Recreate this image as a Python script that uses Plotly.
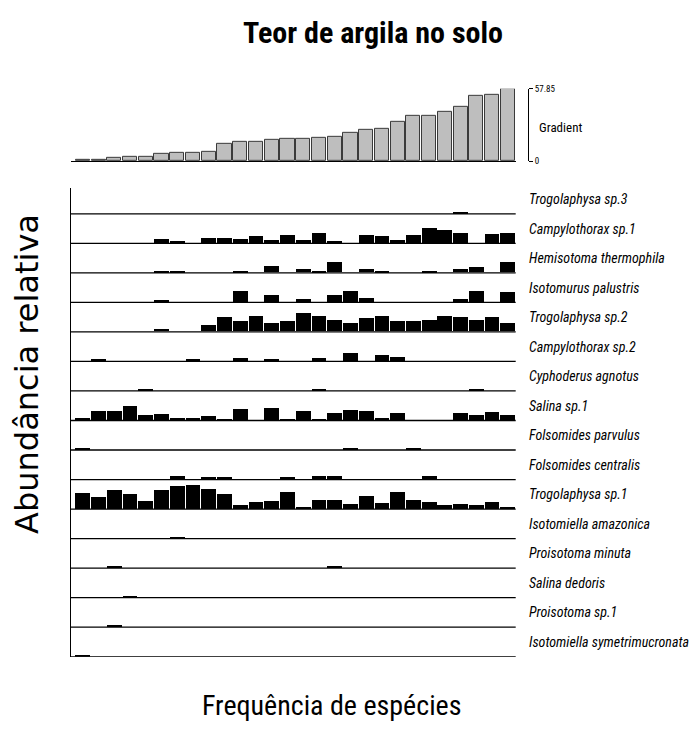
import plotly.graph_objects as go

W, H = 691, 734

# Sites ordered along the clay-content gradient (28 sites)
n_sites = 28
sites = list(range(n_sites))
clay_gradient = [0.8, 0.8, 2.9, 3.7, 3.7, 5.8, 6.8, 6.6, 7.6, 13.9, 15.8, 15.8, 16.8, 17.6,
                 17.6, 18.7, 19.7, 22.4, 25.0, 26.0, 31.3, 36.0, 36.0, 39.4, 43.4, 52.3,
                 53.4, 57.85]
gradient_max = 57.85

species = [
    "Trogolaphysa sp.3", "Campylothorax sp.1", "Hemisotoma thermophila",
    "Isotomurus palustris", "Trogolaphysa sp.2", "Campylothorax sp.2",
    "Cyphoderus agnotus", "Salina sp.1", "Folsomides parvulus",
    "Folsomides centralis", "Trogolaphysa sp.1", "Isotomiella amazonica",
    "Proisotoma minuta", "Salina dedoris", "Proisotoma sp.1",
    "Isotomiella symetrimucronata",
]

# Relative abundance per site (same scale for all species)
trogolaphysa_sp3 = [0]*24 + [5, 0, 0, 0]
campylothorax_sp1 = [0, 0, 0, 0, 0, 13, 5, 0, 16, 16, 13, 20, 9, 23, 9, 30, 5, 0, 23, 20,
                     9, 23, 44, 40, 30, 0, 26, 30]
hemisotoma_thermophila = [0, 0, 0, 0, 0, 5, 5, 0, 0, 0, 5, 0, 19, 0, 9, 5, 33, 0, 9, 5,
                          0, 0, 5, 0, 9, 16, 0, 32]
isotomurus_palustris = [0, 0, 0, 0, 0, 5, 0, 0, 0, 0, 33, 0, 22, 0, 8, 0, 22, 33, 12, 0,
                        0, 0, 0, 0, 8, 33, 0, 29]
trogolaphysa_sp2 = [0, 0, 0, 0, 0, 8, 0, 0, 19, 44, 32, 47, 25, 32, 57, 47, 36, 25, 40, 47,
                    32, 32, 36, 47, 44, 36, 44, 25]
campylothorax_sp2 = [0, 5, 0, 0, 0, 0, 0, 5, 0, 0, 8, 0, 5, 0, 0, 8, 0, 23, 0, 19,
                     12, 0, 0, 0, 0, 0, 0, 0]
cyphoderus_agnotus = [0, 0, 0, 0, 4, 0, 0, 0, 0, 0, 0, 0, 0, 0, 0, 4, 0, 0, 0, 0,
                      0, 0, 0, 0, 0, 4, 0, 0]
salina_sp1 = [7, 28, 28, 42, 14, 18, 7, 7, 11, 3, 35, 0, 38, 3, 28, 3, 21, 32, 28, 7,
              21, 0, 0, 0, 21, 14, 25, 14]
folsomides_parvulus = [5, 0, 0, 0, 0, 0, 0, 0, 0, 0, 0, 0, 0, 0, 0, 0, 0, 5, 0, 0,
                       0, 5, 0, 0, 0, 0, 0, 0]
folsomides_centralis = [0, 0, 0, 0, 0, 0, 8, 0, 5, 5, 0, 0, 0, 5, 0, 8, 8, 0, 0, 0,
                        0, 0, 8, 0, 0, 0, 0, 0]
trogolaphysa_sp1 = [48, 34, 56, 45, 24, 56, 69, 73, 59, 45, 10, 20, 24, 52, 6, 27, 27, 13,
                    38, 17, 52, 27, 20, 10, 13, 10, 20, 3]
isotomiella_amazonica = [0]*6 + [4] + [0]*21
proisotoma_minuta = [0, 0, 6] + [0]*13 + [4] + [0]*11
salina_dedoris = [0, 0, 0, 4] + [0]*24
proisotoma_sp1 = [0, 0, 4] + [0]*25
isotomiella_symetrimucronata = [4] + [0]*27

abundances = [
    trogolaphysa_sp3, campylothorax_sp1, hemisotoma_thermophila, isotomurus_palustris,
    trogolaphysa_sp2, campylothorax_sp2, cyphoderus_agnotus, salina_sp1,
    folsomides_parvulus, folsomides_centralis, trogolaphysa_sp1, isotomiella_amazonica,
    proisotoma_minuta, salina_dedoris, proisotoma_sp1, isotomiella_symetrimucronata,
]

ROW = 90  # vertical extent of one species strip, in abundance units

NARROW = "Liberation Sans Narrow, Arial Narrow, Roboto Condensed, Liberation Sans, sans-serif"
WIDE = "DejaVu Sans, Liberation Sans, Arial, sans-serif"


def px_x(p):
    return p / W


def px_y(p):
    return 1 - p / H


# horizontal placement of the site axis
x_left_px, x_right_px = 71.0, 515.7
bar_step = (515.7 - 75.0) / n_sites
x_lo = -0.5 - (75.0 - x_left_px) / bar_step
x_hi = n_sites - 0.5

fig = go.Figure()

# Gradient bars (top panel)
fig.add_trace(go.Bar(
    x=sites, y=clay_gradient, width=0.9,
    marker=dict(color="#bebebe", line=dict(color="#3a3a3a", width=1)),
    xaxis="x2", yaxis="y2", showlegend=False, hoverinfo="skip",
))

# Species strips, each drawn on its own baseline
n_sp = len(species)
for k, (name, vals) in enumerate(zip(species, abundances)):
    base = -k * ROW
    xs = [s for s, v in zip(sites, vals) if v > 0]
    ys = [v for v in vals if v > 0]
    fig.add_trace(go.Bar(
        x=xs, y=ys, base=base, width=0.94,
        marker=dict(color="black", line=dict(width=0)),
        xaxis="x", yaxis="y", showlegend=False, name=name, hoverinfo="skip",
    ))

shapes = []
annotations = []
for k, name in enumerate(species):
    base = -k * ROW
    shapes.append(dict(type="line", xref="x domain", yref="y", x0=0, x1=1,
                       y0=base, y1=base, line=dict(color="black", width=1.3)))
    annotations.append(dict(
        x=px_x(527), y=base + ROW / 2, xref="paper", yref="y",
        text="<i>" + name + "</i>", showarrow=False, xanchor="left", yanchor="middle",
        font=dict(family=NARROW, size=14, color="black"),
    ))

bottom_base = -(n_sp - 1) * ROW
top_px, bottom_px = 186.0, 660.7
row_px = (660.7 - 211.7) / (n_sp - 1)
y_top_val = (211.7 - top_px) / row_px * ROW

annotations += [
    dict(x=px_x(373), y=px_y(28), xref="paper", yref="paper",
         xanchor="center", yanchor="middle",
         text="<b>Teor de argila no solo</b>", showarrow=False,
         font=dict(family=NARROW, size=30, color="black")),
    dict(x=px_x(27), y=px_y(374), xref="paper", yref="paper",
         xanchor="center", yanchor="middle",
         text="Abundância relativa", showarrow=False, textangle=-90,
         font=dict(family=WIDE, size=32, color="black")),
    dict(x=px_x(331), y=px_y(710), xref="paper", yref="paper",
         xanchor="center", yanchor="middle",
         text="Frequência de espécies", showarrow=False,
         font=dict(family=NARROW, size=28, color="black")),
    dict(x=px_x(537), y=px_y(124), xref="paper", yref="paper",
         xanchor="left", yanchor="middle",
         text="Gradient", showarrow=False,
         font=dict(family=NARROW, size=13, color="black")),
]

fig.update_layout(
    width=W, height=H,
    margin=dict(l=0, r=0, t=0, b=0),
    paper_bgcolor="white", plot_bgcolor="white",
    bargap=0, barmode="overlay",
    xaxis=dict(domain=[px_x(x_left_px), px_x(x_right_px)], range=[x_lo, x_hi],
               anchor="y", showticklabels=False, ticks="", showgrid=False,
               zeroline=False, showline=False),
    yaxis=dict(domain=[px_y(bottom_px), px_y(top_px)],
               range=[bottom_base, y_top_val], anchor="x",
               showticklabels=False, ticks="", showgrid=False, zeroline=False,
               showline=True, linecolor="black", linewidth=1),
    xaxis2=dict(domain=[px_x(x_left_px), px_x(x_right_px)], range=[x_lo, x_hi],
                anchor="y2", showticklabels=False, ticks="", showgrid=False,
                zeroline=False, showline=True, linecolor="black", linewidth=1.3),
    yaxis2=dict(domain=[px_y(158.3), px_y(85)], range=[0, gradient_max],
                anchor="free", position=px_x(528), side="right",
                tickvals=[0, gradient_max], ticktext=["0", "57.85"],
                ticks="outside", ticklen=4, tickcolor="black",
                tickfont=dict(family=NARROW, size=9, color="black"),
                showgrid=False, zeroline=False, showline=True,
                linecolor="black", linewidth=1),
    shapes=shapes,
    annotations=annotations,
)

fig.write_html("out.html")
